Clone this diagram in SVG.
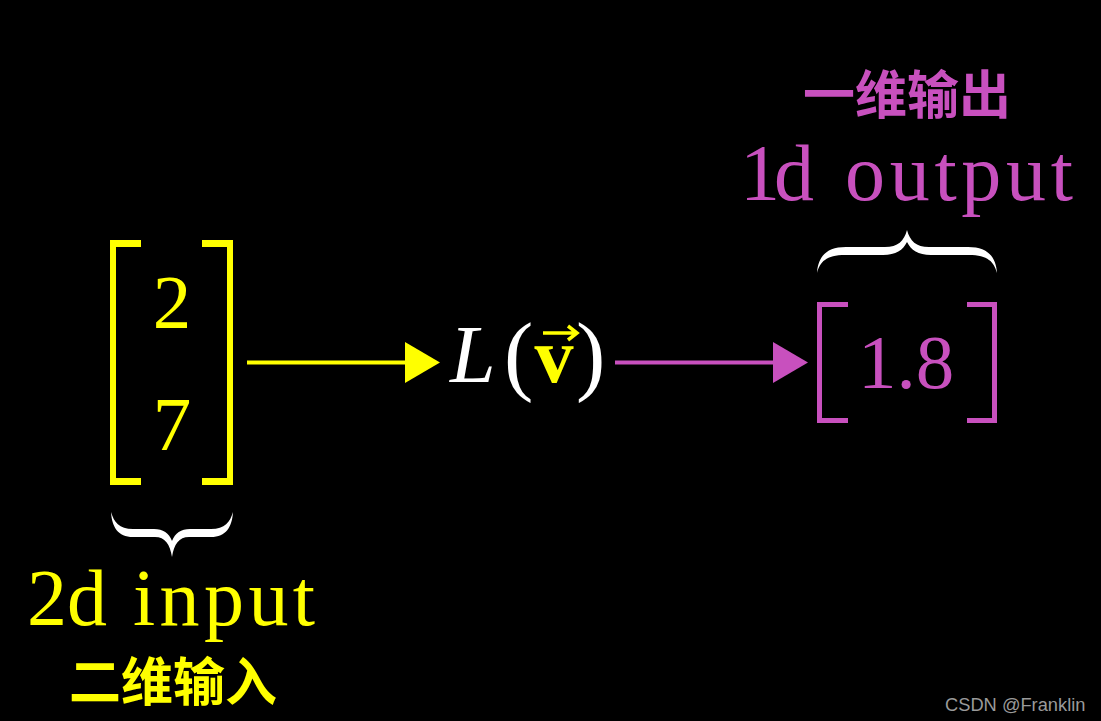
<svg xmlns="http://www.w3.org/2000/svg" width="1101" height="721" viewBox="0 0 1101 721">
<style>
.num{font-family:"Liberation Serif","DejaVu Serif",serif;font-size:77px}
.lbl{font-family:"Liberation Serif","DejaVu Serif",serif;font-size:80px}
.cjk{font-family:"Noto Sans CJK SC","Noto Sans",sans-serif;font-size:52px;font-weight:bold;text-anchor:middle}
.y{fill:#FFFF00}
.m{fill:#C850BE}
.w{fill:#FFFFFF}
</style>
<rect width="1101" height="721" fill="#000"/>
<g id="input">
<path class="y" d="M110,240 H141 V247 H116 V478 H141 V485 H110 Z"/>
<path class="y" d="M233,240 H202 V247 H227 V478 H202 V485 H233 Z"/>
<text class="num y" x="172" y="328" text-anchor="middle">2</text>
<text class="num y" x="172" y="450" text-anchor="middle">7</text>
<path class="w" d="M111,512 C112,527 118,537 133,537 L155,537 C165,537 170,544 172,557 C174,544 179,537 189,537 L211,537 C226,537 232,527 233,512 C230,522 225,529 211,529 L190,529 C181,529 175,533 172,541 C169,533 163,529 154,529 L133,529 C119,529 114,522 111,512 Z"/>
<text class="lbl y" y="625"><tspan x="27" textLength="80" lengthAdjust="spacing">2d</tspan><tspan x="133" textLength="182" lengthAdjust="spacing">input</tspan></text>
<text class="cjk y" x="173" y="701">二维输入</text>
</g>
<g id="function">
<text x="450" y="382" fill="#fff" font-family="'Liberation Serif','DejaVu Serif',serif" font-style="italic" font-size="82">L</text>
<text x="504" y="384" fill="#fff" font-family="'Liberation Serif','DejaVu Serif',serif" font-size="88">(</text>
<text x="554" y="382" fill="#FFFF00" font-family="'Liberation Serif','DejaVu Serif',serif" font-weight="bold" font-size="78" text-anchor="middle">v</text>
<path d="M543,333 H575 M568,326 L577,333 L568,340" fill="none" stroke="#FFFF00" stroke-width="3.5"/>
<text x="576" y="384" fill="#fff" font-family="'Liberation Serif','DejaVu Serif',serif" font-size="88">)</text>
</g>
<g id="output">
<path class="m" d="M817,302 H848 V307 H822 V418 H848 V423 H817 Z"/>
<path class="m" d="M997,302 H967 V307 H992 V418 H967 V423 H997 Z"/>
<text class="num m" x="906" y="388" text-anchor="middle">1.8</text>
<path class="w" d="M817,273 C818,257 826,247 846,247 L885,247 C898,247 904,241 907,230 C910,241 916,247 929,247 L968,247 C988,247 996,257 997,273 C994,262 988,255 969,255 L931,255 C918,255 911,250 907,242 C903,250 896,255 883,255 L845,255 C826,255 820,262 817,273 Z"/>
<text class="lbl m" y="200"><tspan x="740" textLength="74" lengthAdjust="spacing">1d</tspan><tspan x="845" textLength="228" lengthAdjust="spacing">output</tspan></text>
<text class="cjk m" x="907" y="114">一维输出</text>
</g>
<g id="connectors">
<line x1="247" y1="362.5" x2="408" y2="362.5" stroke="#FFFF00" stroke-width="4"/>
<path d="M405,342 L440,362.5 L405,383 Z" fill="#FFFF00"/>
<line x1="615" y1="362.5" x2="776" y2="362.5" stroke="#C850BE" stroke-width="4"/>
<path d="M773,342 L808,362.5 L773,383 Z" fill="#C850BE"/>
</g>
<text x="945" y="711" fill="#9a9a9a" font-family="'Liberation Sans',Arial,sans-serif" font-size="18.3">CSDN @Franklin</text>
</svg>
